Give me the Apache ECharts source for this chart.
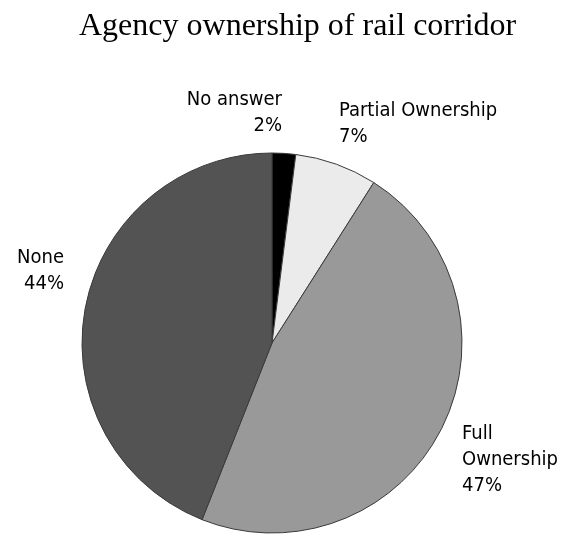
<!DOCTYPE html>
<html><head><meta charset="utf-8">
<script src="https://cdn.jsdelivr.net/npm/echarts@6/dist/echarts.min.js"></script>
<style>html,body{margin:0;padding:0;background:#fff}#c{width:566px;height:536px}</style>
</head><body><div id="c"></div>
<script>
const categories = ['No answer', 'Partial Ownership', 'Full Ownership', 'None'];
const labelTexts = ['No answer', 'Partial Ownership', 'Full\nOwnership', 'None'];
const values = [2, 7, 47, 44];
const colors = ['#000000', '#ebebeb', '#999999', '#535353'];
const labelPos = [
  {x: 282, y: 87, align: 'right'},
  {x: 339, y: 98, align: 'left'},
  {x: 462, y: 421, align: 'left'},
  {x: 64, y: 245, align: 'right'}
];
const chart = echarts.init(document.getElementById('c'));
chart.setOption({
  animation: false,
  title: {
    text: 'Agency ownership of rail corridor',
    left: 74, top: 6,
    textStyle: {fontFamily: 'Liberation Serif', fontSize: 32, fontWeight: 'normal', color: '#000'}
  },
  series: [{
    type: 'pie',
    center: [272, 343],
    radius: 190,
    startAngle: 90,
    clockwise: true,
    data: categories.map((c, i) => ({name: c, value: values[i], itemStyle: {color: colors[i]}})),
    itemStyle: {borderColor: '#3a3a3a', borderWidth: 1},
    label: {
      show: true, position: 'outside', overflow: 'none',
      formatter: p => labelTexts[p.dataIndex] + '\n' + p.value + '%',
      fontFamily: 'DejaVu Sans Condensed', fontSize: 20, color: '#000', lineHeight: 26
    },
    labelLine: {show: false},
    labelLayout: p => ({x: labelPos[p.dataIndex].x, y: labelPos[p.dataIndex].y, align: labelPos[p.dataIndex].align, verticalAlign: 'top', width: 300})
  }]
});
</script></body></html>
